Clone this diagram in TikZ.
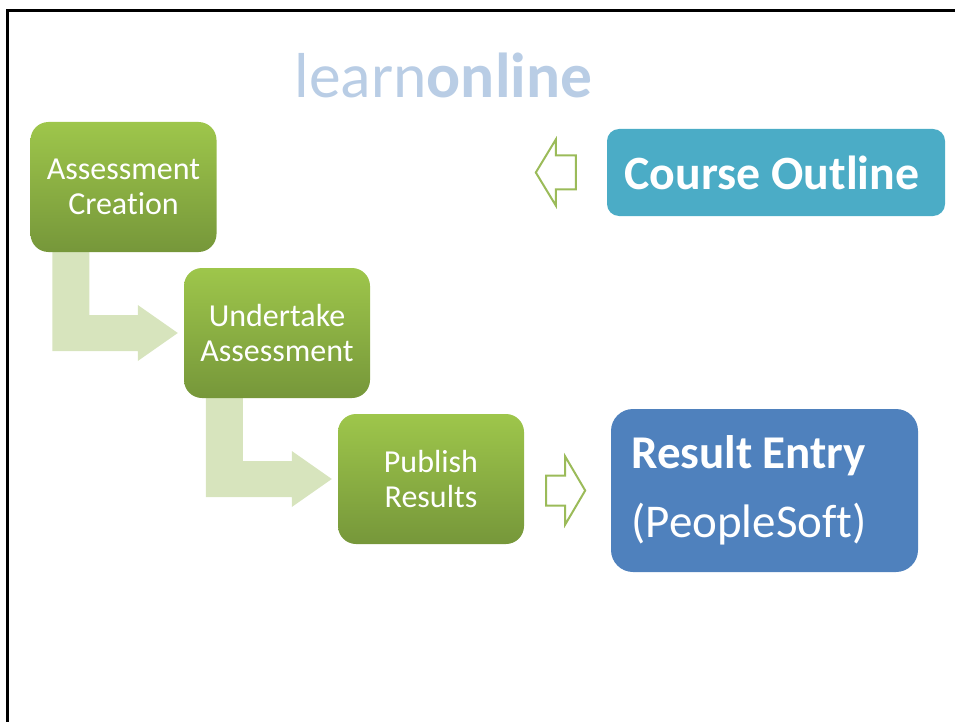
\documentclass[tikz,border=0pt]{standalone}
\usepackage{fontspec}
\setmainfont{Carlito}[Ligatures=NoCommon]
\usetikzlibrary{calc,backgrounds}
\definecolor{flowgreen}{HTML}{D7E4BD}
\definecolor{gtop}{HTML}{9EC64B}
\definecolor{gbot}{HTML}{76973A}
\definecolor{tealbox}{HTML}{4BACC6}
\definecolor{bluebox}{HTML}{4F81BD}
\definecolor{logoblue}{HTML}{B9CDE5}
\definecolor{outgreen}{HTML}{9BBB59}
\tikzset{
  greenbox/.style={rounded corners=18pt, top color=gtop, bottom color=gbot,
    minimum width=186pt, minimum height=130pt, text=white, align=center,
    font=\fontsize{32}{35}\selectfont, inner sep=0pt},
  flowarrow/.style={fill=flowgreen},
  outarrow/.style={draw=outgreen, line width=2pt, fill=white, line join=miter},
}
\begin{document}
\begin{tikzpicture}[x=1pt,y=-1pt]
\useasboundingbox (0,0) rectangle (955,722);
\draw[line width=2.6pt] (7.5,722) -- (7.5,10.5) -- (955,10.5);

\node[anchor=base, text=logoblue, font=\fontsize{63.5}{70}\selectfont] (logo) at (443.5,98) {learn\textbf{online}};

\node[greenbox] (ac) at (123.5,187) {Assessment\\Creation};
\node[greenbox] (ua) at (277,333) {Undertake\\Assessment};
\node[greenbox] (pr) at (431,479) {Publish\\Results};

\node[rounded corners=12pt, fill=tealbox, minimum width=338pt, minimum height=87pt,
  text=white, font=\fontsize{47.8}{50}\selectfont\bfseries, inner sep=0pt] (co) at (776,172.5) {\hspace*{-8pt}Course Outline};

\node[rounded corners=22pt, fill=bluebox, minimum width=307pt, minimum height=163pt,
  text=white, text width=266pt, align=left, font=\fontsize{47}{69}\selectfont, inner sep=0pt] (re) at (764.5,490.5)
  {\textbf{Result\hspace{0.21em}Entry}\\(PeopleSoft)};

\begin{pgfonlayer}{background}
\fill[flowarrow] let \p1=(ac.south west), \p2=(ua.west) in
  (\x1+22pt,\y1) -- (\x1+59pt,\y1) -- (\x1+59pt,\y2+18pt) -- (\x2-46pt,\y2+18pt)
  -- (\x2-46pt,\y2+28pt) -- (\x2-6pt,\y2) -- (\x2-46pt,\y2-28pt) -- (\x2-46pt,\y2-18pt)
  -- (\x1+22pt,\y2-18pt) -- cycle;
\fill[flowarrow] let \p1=(ua.south west), \p2=(pr.west) in
  (\x1+22pt,\y1) -- (\x1+59pt,\y1) -- (\x1+59pt,\y2+18pt) -- (\x2-46pt,\y2+18pt)
  -- (\x2-46pt,\y2+28pt) -- (\x2-6pt,\y2) -- (\x2-46pt,\y2-28pt) -- (\x2-46pt,\y2-18pt)
  -- (\x1+22pt,\y2-18pt) -- cycle;
\end{pgfonlayer}

\draw[outarrow] let \p1=(co.west) in
  (\x1-31pt,\y1+17pt) -- (\x1-51pt,\y1+17pt) -- (\x1-51pt,\y1+33pt) -- (\x1-71pt,\y1)
  -- (\x1-51pt,\y1-33pt) -- (\x1-51pt,\y1-17pt) -- (\x1-31pt,\y1-17pt) -- cycle;
\draw[outarrow] let \p1=(pr.east), \p2=(re.west) in
  (\x1+22pt,\y2+15pt) -- (\x1+41pt,\y2+15pt) -- (\x1+41pt,\y2+34pt) -- (\x1+61pt,\y2)
  -- (\x1+41pt,\y2-34pt) -- (\x1+41pt,\y2-15pt) -- (\x1+22pt,\y2-15pt) -- cycle;
\end{tikzpicture}
\end{document}
